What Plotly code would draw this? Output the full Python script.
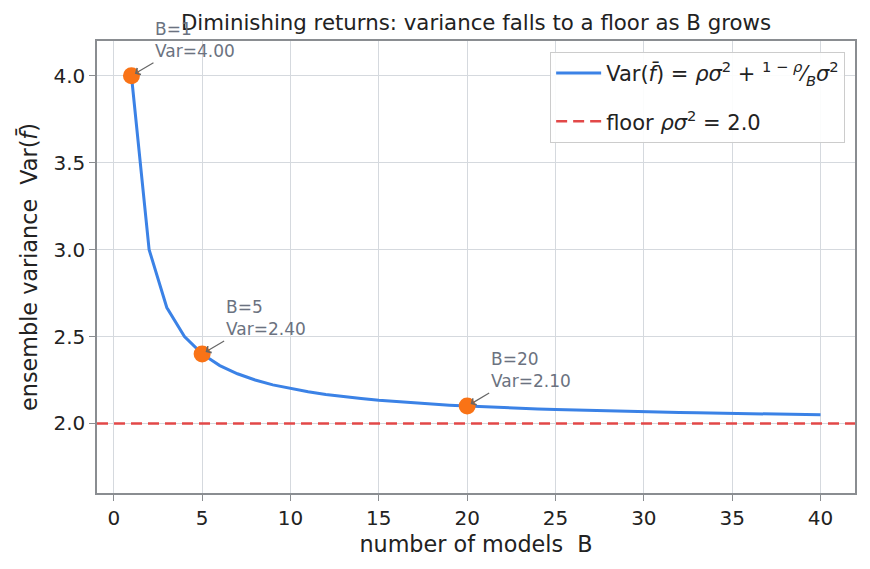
import plotly.graph_objects as go

# ---- data ----
B_values = list(range(1, 41))
var_values = [4.000, 3.000, 2.667, 2.500, 2.400, 2.333, 2.286, 2.250, 2.222, 2.200,
              2.182, 2.167, 2.154, 2.143, 2.133, 2.125, 2.118, 2.111, 2.105, 2.100,
              2.095, 2.091, 2.087, 2.083, 2.080, 2.077, 2.074, 2.071, 2.069, 2.067,
              2.065, 2.063, 2.061, 2.059, 2.057, 2.056, 2.054, 2.053, 2.051, 2.050]
highlight_B = [1, 5, 20]
highlight_var = [4.00, 2.40, 2.10]
floor_value = 2.0
x_ticks = [0, 5, 10, 15, 20, 25, 30, 35, 40]
y_ticks = [2.0, 2.5, 3.0, 3.5, 4.0]
x_range = [-0.95, 41.95]
y_range = [1.6, 4.2]

BLUE = "#3b82e6"
RED = "#e24848"
ORANGE = "#f97316"
GRAY_TXT = "#6b7280"
GRID = "#d5d9de"
FRAME = "#8a8d91"
FONT = "DejaVu Sans"

fig = go.Figure()

fig.add_trace(go.Scatter(
    x=B_values, y=var_values, mode="lines",
    line=dict(color=BLUE, width=3),
    legendgroup="g1",
    name="Var(<i>f̄</i>) = <i>ρσ</i><sup>2</sup> + <sup>1 − <i>ρ</i></sup>⁄<sub><i>B</i></sub><i>σ</i><sup>2</sup>",
))
fig.add_trace(go.Scatter(
    x=x_range, y=[floor_value, floor_value], mode="lines",
    line=dict(color=RED, width=2.5, dash="11px,6px"),
    legendgroup="g2",
    name=f"floor <i>ρσ</i><sup>2</sup> = {floor_value:.1f}",
))
fig.add_trace(go.Scatter(
    x=highlight_B, y=highlight_var, mode="markers",
    marker=dict(color=ORANGE, size=17), showlegend=False,
))

for b, v in zip(highlight_B, highlight_var):
    fig.add_annotation(
        x=b, y=v, xref="x", yref="y",
        text=f"B={b}<br>Var={v:.2f}",
        showarrow=True, arrowhead=4, arrowsize=1.2, arrowwidth=1.2,
        arrowcolor="#666666", ax=22, ay=-13, standoff=4,
        xanchor="left", yanchor="bottom", align="left",
        font=dict(family=FONT, size=17, color=GRAY_TXT),
    )

fig.update_layout(
    width=870, height=569,
    margin=dict(l=97, r=15, t=41, b=76),
    paper_bgcolor="white", plot_bgcolor="white",
    font=dict(family=FONT, size=20, color="#222222"),
    title=dict(text="Diminishing returns: variance falls to a floor as B grows",
               x=0.5, xref="paper", xanchor="center",
               y=0.96, yref="container", yanchor="middle",
               font=dict(family=FONT, size=21.3, color="#222222")),
    showlegend=True,
    legend=dict(x=0.987, xanchor="right", y=0.976, yanchor="top",
                bgcolor="rgba(255,255,255,0.9)", bordercolor="#cccccc", borderwidth=1,
                font=dict(family=FONT, size=21, color="#222222"),
                itemwidth=45, tracegroupgap=18),
    xaxis=dict(range=x_range, tickvals=x_ticks, ticks="outside", ticklen=6,
               tickcolor=FRAME, showgrid=True, gridcolor=GRID, gridwidth=1,
               showline=True, linecolor=FRAME, linewidth=1.5, mirror=True,
               zeroline=False,
               title=dict(text="number of models  B", font=dict(size=22.3), standoff=8),
               tickfont=dict(size=20)),
    yaxis=dict(range=y_range, tickvals=y_ticks, tickformat=".1f", ticks="outside", ticklen=6,
               tickcolor=FRAME, showgrid=True, gridcolor=GRID, gridwidth=1,
               showline=True, linecolor=FRAME, linewidth=1.5, mirror=True,
               zeroline=False,
               title=dict(text="ensemble variance  Var(<i>f̄</i>)", font=dict(size=22.3), standoff=10),
               tickfont=dict(size=20)),
)

fig.write_html("out.html")
